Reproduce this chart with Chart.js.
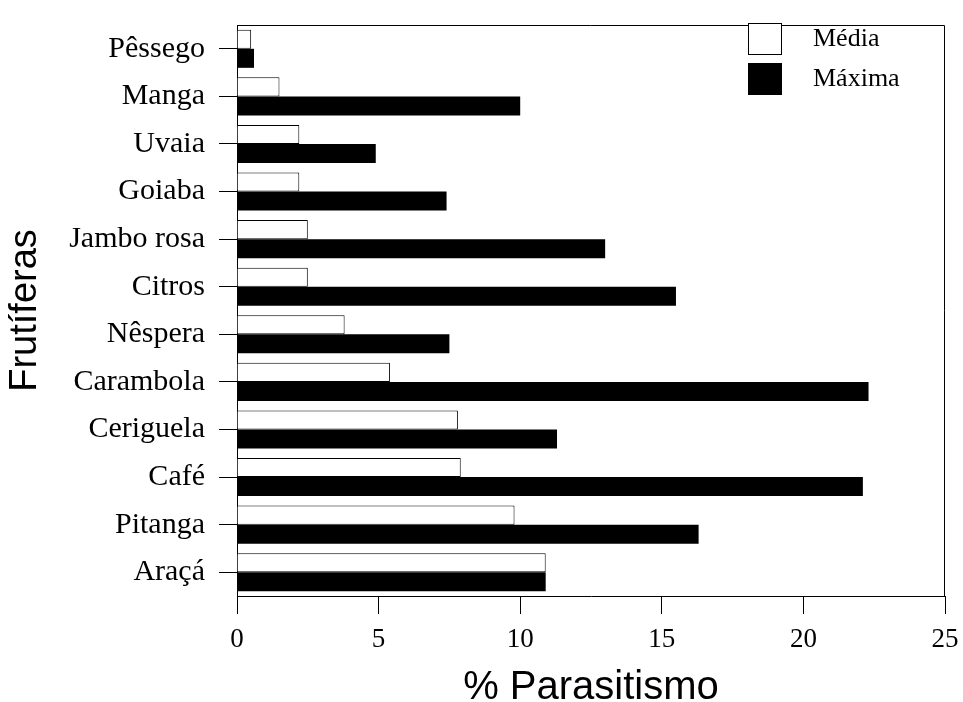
<!DOCTYPE html>
<html>
<head>
<meta charset="utf-8">
<script src="https://cdn.jsdelivr.net/npm/chart.js@4.4.1/dist/chart.umd.min.js"></script>
<style>
  html, body { margin: 0; padding: 0; background: #fff; }
  #wrap { width: 963px; height: 702px; }
</style>
</head>
<body>
<div id="wrap"><canvas id="c" width="963" height="702"></canvas></div>
<script>
const categories = ["Pêssego", "Manga", "Uvaia", "Goiaba", "Jambo rosa", "Citros", "Nêspera", "Carambola", "Ceriguela", "Café", "Pitanga", "Araçá"];
const mediaValues = [0.5, 1.5, 2.2, 2.2, 2.5, 2.5, 3.8, 5.4, 7.8, 7.9, 9.8, 10.9];
const maximaValues = [0.6, 10.0, 4.9, 7.4, 13.0, 15.5, 7.5, 22.3, 11.3, 22.1, 16.3, 10.9];
const xTicks = [0, 5, 10, 15, 20, 25];
const seriesNames = ["Média", "Máxima"];
const xTitle = "% Parasitismo";
const yTitle = "Frutíferas";

const frame = {
  id: 'frame',
  afterDatasetsDraw(chart) {
    const a = chart.chartArea, ctx = chart.ctx;
    ctx.save();
    ctx.strokeStyle = '#000';
    ctx.lineWidth = 1;
    ctx.beginPath();
    ctx.moveTo(a.left, a.top + 0.5);
    ctx.lineTo(a.right - 0.5, a.top + 0.5);
    ctx.lineTo(a.right - 0.5, a.bottom);
    ctx.stroke();
    ctx.restore();
  }
};

const innerLegend = {
  id: 'innerLegend',
  afterDraw(chart) {
    const ctx = chart.ctx;
    const ds = chart.data.datasets;
    const x0 = 748, y0 = 23, bw = 34, bh = 32, gap = 40, tx = 813;
    ctx.save();
    ds.forEach((d, i) => {
      const y = y0 + i * gap;
      ctx.fillStyle = d.backgroundColor;
      ctx.fillRect(x0, y, bw, bh);
      ctx.strokeStyle = '#000';
      ctx.lineWidth = 1;
      ctx.strokeRect(x0 + 0.5, y + 0.5, bw - 1, bh - 1);
      ctx.fillStyle = '#000';
      ctx.font = '26px "Liberation Serif", "Times New Roman", serif';
      ctx.textBaseline = 'middle';
      ctx.textAlign = 'left';
      ctx.fillText(d.label, tx, y + bh / 2);
    });
    ctx.restore();
  }
};

new Chart(document.getElementById('c'), {
  type: 'bar',
  data: {
    labels: categories,
    datasets: [
      { label: seriesNames[0], data: mediaValues, backgroundColor: '#ffffff', borderColor: '#000000', borderWidth: 1, borderSkipped: 'start' },
      { label: seriesNames[1], data: maximaValues, backgroundColor: '#000000', borderColor: '#000000', borderWidth: 0 }
    ]
  },
  options: {
    indexAxis: 'y',
    responsive: false,
    animation: false,
    devicePixelRatio: 1,
    layout: { padding: { top: 25, right: 18, left: 0, bottom: 0 } },
    datasets: { bar: { categoryPercentage: 0.8, barPercentage: 1.0 } },
    plugins: { legend: { display: false }, tooltip: { enabled: false } },
    scales: {
      x: {
        type: 'linear',
        min: 0, max: 25,
        afterFit(scale) { scale.height = 106; scale.paddingLeft = 0; scale.paddingRight = 0; },
        afterBuildTicks(scale) { scale.ticks = xTicks.map(v => ({ value: v })); },
        ticks: { color: '#000', padding: 10, font: { family: '"Liberation Serif", "Times New Roman", serif', size: 27 } },
        grid: { display: true, drawOnChartArea: false, drawTicks: true, tickLength: 18, color: '#000', lineWidth: 1 },
        border: { display: true, color: '#000', width: 1 },
        title: { display: true, text: xTitle, color: '#000', padding: { top: 0, bottom: 0 }, font: { family: '"Liberation Sans", Arial, sans-serif', size: 40, lineHeight: 0.7 } }
      },
      y: {
        type: 'category',
        afterFit(scale) { scale.width = 237; scale.paddingTop = 0; scale.paddingBottom = 0; },
        ticks: { color: '#000', padding: 14, font: { family: '"Liberation Serif", "Times New Roman", serif', size: 30 } },
        grid: { display: true, offset: false, drawOnChartArea: false, drawTicks: true, tickLength: 18, color: '#000', lineWidth: 1 },
        border: { display: true, color: '#000', width: 1 },
        title: { display: true, text: yTitle, color: '#000', padding: { top: 3, bottom: 0 }, font: { family: '"Liberation Sans", Arial, sans-serif', size: 38, lineHeight: 1.2 } }
      }
    }
  },
  plugins: [frame, innerLegend]
});
</script>
</body>
</html>
